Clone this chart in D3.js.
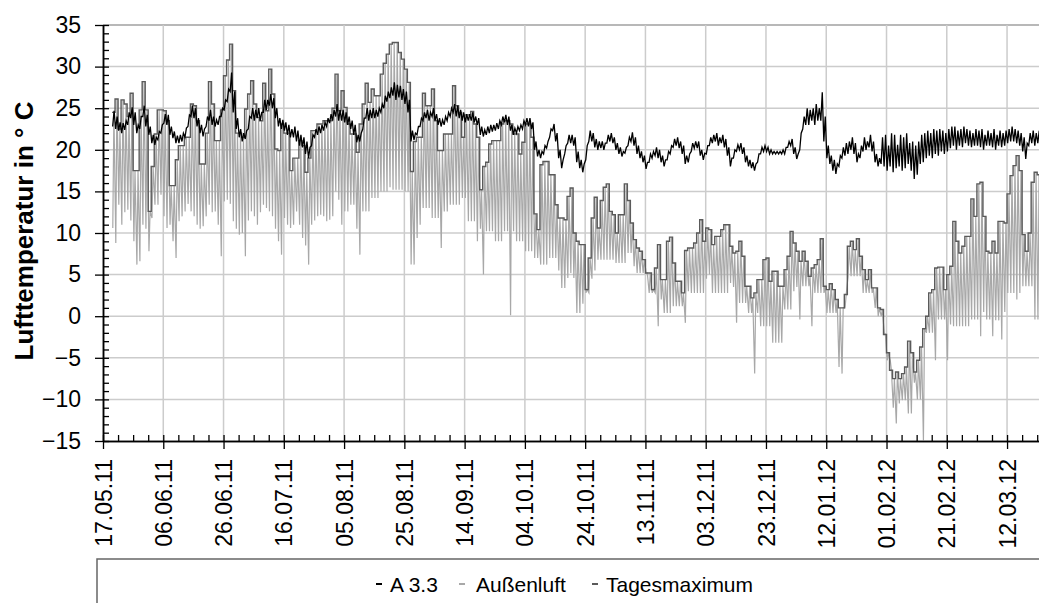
<!DOCTYPE html>
<html>
<head>
<meta charset="utf-8">
<script src="https://cdn.jsdelivr.net/npm/d3@7"></script>
<style>
  body { margin: 0; background: #fff; }
  svg { display: block; font-family: "Liberation Sans", Arial, sans-serif; }
</style>
</head>
<body>
<svg id="chart" width="1039" height="603"></svg>
<script>
// x tick labels (every 20 days)
const tickLabels = ["17.05.11","06.06.11","26.06.11","16.07.11","05.08.11","25.08.11","14.09.11","04.10.11",
  "24.10.11","13.11.11","03.12.11","23.12.11","12.01.12","01.02.12","21.02.12","12.03.12"];
const yTicks = [-15, -10, -5, 0, 5, 10, 15, 20, 25, 30, 35];

// first day with data, one value per day from here on
const firstDay = "20.05.11";

// Außenluft: daily maximum (Tagesmaximum)
const tagesMax = [
  24.5, 26.1, 22.5, 26.0, 25.5, 24.0, 26.8, 17.5, 17.5, 24.8,
  28.2, 24.8, 12.6, 18.0, 21.9, 24.8, 24.8, 24.7, 23.5, 15.7,
  15.7, 18.8, 20.5, 20.5, 21.5, 21.5, 25.5, 25.3, 23.5, 18.3,
  18.3, 22.0, 28.2, 25.5, 21.1, 21.1, 24.8, 28.9, 30.8, 32.7,
  27.1, 22.0, 22.0, 21.5, 24.9, 26.7, 28.3, 25.5, 23.9, 23.5,
  28.0, 24.7, 29.7, 26.7, 20.1, 19.9, 23.1, 22.0, 22.0, 17.5,
  19.0, 19.0, 21.1, 20.5, 17.3, 19.0, 22.3, 22.3, 23.1, 23.1,
  23.5, 23.5, 23.5, 25.0, 29.1, 24.7, 27.1, 25.1, 23.1, 21.9,
  21.9, 19.7, 23.1, 25.5, 28.0, 25.7, 27.3, 26.5, 26.5, 29.1,
  30.4, 31.5, 32.7, 32.9, 32.9, 31.7, 30.9, 29.7, 28.1, 17.4,
  21.0, 21.5, 21.5, 26.8, 25.3, 25.3, 27.3, 23.5, 19.9, 19.9,
  21.9, 21.9, 21.9, 27.7, 25.3, 24.5, 21.5, 24.2, 24.2, 24.6,
  23.1, 21.5, 15.2, 18.0, 18.5, 20.7, 21.1, 21.1, 21.1, 23.1,
  23.5, 23.5, 23.1, 21.9, 21.9, 19.5, 20.9, 23.1, 23.1, 21.5,
  12.3, 10.4, 18.2, 18.6, 18.6, 17.0, 17.0, 13.4, 11.8, 11.8,
  11.6, 14.4, 15.4, 10.0, 9.0, 8.6, 8.6, 3.2, 7.0, 11.8,
  14.3, 10.6, 13.9, 15.5, 15.9, 12.6, 12.2, 10.0, 12.2, 12.2,
  15.9, 13.9, 11.2, 9.2, 8.2, 7.8, 6.8, 5.2, 5.2, 3.2,
  5.8, 8.6, 4.4, 4.4, 9.0, 9.5, 6.4, 4.2, 4.2, 2.8,
  7.9, 8.2, 8.2, 8.8, 10.0, 11.6, 9.0, 10.6, 10.4, 8.6,
  9.6, 9.6, 10.4, 11.0, 11.0, 8.4, 7.6, 7.8, 9.0, 7.2,
  3.6, 3.6, 2.2, 2.8, 4.4, 4.4, 6.8, 7.0, 4.2, 5.4,
  5.4, 3.6, 3.6, 5.6, 7.2, 10.2, 8.8, 7.8, 6.6, 7.8,
  6.6, 4.8, 5.8, 6.2, 6.8, 9.3, 3.6, 3.2, 3.9, 3.2,
  2.0, 1.0, 1.0, 2.6, 8.4, 9.0, 8.0, 9.3, 7.2, 5.6,
  4.4, 5.6, 3.4, 3.4, 1.0, 0.8, -2.2, -4.4, -6.5, -7.5,
  -6.7, -7.5, -6.9, -6.1, -3.0, -4.4, -6.7, -5.3, -3.7, -1.5,
  0.0, 2.8, 3.2, 5.8, 5.9, 5.9, 3.2, 5.0, 6.0, 11.4,
  9.0, 7.6, 8.4, 9.6, 9.6, 14.1, 12.0, 15.9, 16.1, 12.0,
  7.8, 7.6, 9.0, 7.6, 11.4, 11.4, 11.2, 14.7, 16.9, 18.1,
  19.3, 17.5, 9.8, 7.8, 10.0, 16.1, 17.3, 17.0
];

// Außenluft: daily minimum
const aussenMin = [
  10.6, 8.8, 13.4, 11.0, 12.5, 12.8, 11.5, 9.0, 6.2, 6.6,
  11.0, 10.5, 7.8, 11.8, 13.4, 13.4, 14.6, 12.0, 10.6, 11.0,
  9.0, 7.0, 11.4, 12.0, 12.6, 13.5, 12.6, 12.0, 11.0, 10.5,
  10.8, 12.0, 13.4, 12.5, 12.6, 11.0, 7.2, 13.8, 14.0, 13.5,
  11.4, 10.5, 9.8, 10.0, 7.2, 11.5, 12.6, 12.0, 11.0, 12.5,
  13.4, 13.0, 12.6, 12.0, 10.5, 9.0, 7.4, 11.8, 11.0, 10.6,
  11.0, 12.6, 11.0, 9.4, 8.5, 6.2, 11.0, 11.5, 12.0, 12.2,
  12.0, 11.4, 11.6, 12.0, 15.0, 14.0, 11.0, 12.6, 12.6, 13.4,
  13.4, 10.5, 7.4, 12.6, 12.6, 12.6, 14.2, 14.2, 14.2, 15.0,
  15.0, 15.0, 15.5, 15.2, 15.2, 15.2, 15.2, 15.0, 15.0, 6.2,
  6.2, 9.4, 11.0, 13.0, 13.0, 13.0, 11.8, 11.8, 11.8, 8.2,
  12.6, 12.6, 13.4, 13.4, 13.4, 13.4, 14.2, 14.2, 11.4, 11.4,
  11.4, 9.0, 10.5, 5.0, 10.2, 10.2, 10.2, 9.0, 9.0, 9.0,
  10.2, 10.2, 0.1, 10.2, 9.0, 9.0, 9.0, 7.8, 7.8, 7.8,
  7.0, 7.0, 6.2, 6.2, 6.2, 7.0, 7.0, 7.0, 5.5, 3.4,
  3.4, 4.6, 5.2, 4.6, 0.4, 0.4, 1.5, 2.8, 2.8, 4.5,
  5.5, 6.8, 6.8, 6.8, 6.8, 6.8, 6.8, 6.4, 6.4, 6.4,
  6.4, 7.6, 7.6, 6.0, 5.2, 5.2, 5.2, 5.2, 2.8, 2.8,
  2.8, -1.2, 2.0, 0.4, 0.4, 0.4, 1.2, 1.2, 1.2, 1.2,
  -0.8, 3.0, 2.8, 2.8, 2.8, 2.8, 2.8, 4.5, 5.0, 2.8,
  2.8, 2.8, 2.8, 2.8, 2.8, 4.0, 3.5, -0.8, 1.6, 1.6,
  1.6, 0.4, 0.4, -6.9, 0.4, -1.2, -1.2, -1.2, -1.2, -3.2,
  -3.2, -3.2, -3.2, 0.8, 0.8, 0.8, 3.0, 3.5, -0.4, 3.6,
  3.6, 3.6, -1.2, 2.8, 2.8, 2.8, 2.8, 0.4, 0.4, 0.4,
  0.4, -6.1, -6.9, 1.0, 4.8, 4.8, 4.8, 4.8, 4.8, 2.8,
  2.8, 2.8, 2.8, 1.0, 0.0, 0.0, -2.0, -5.3, -5.3, -11.0,
  -12.9, -10.5, -10.1, -10.1, -11.7, -11.7, -8.0, -10.0, -10.0, -14.9,
  -2.0, -2.0, -2.0, -5.3, -0.4, -0.4, -0.4, -5.3, -1.0, -1.2,
  -1.2, -1.2, -1.2, -1.2, -1.2, -0.4, -0.4, -0.4, -2.4, 0.5,
  -0.4, -0.4, -2.4, -0.5, -0.5, -2.8, 0.5, 2.8, 2.8, 2.8,
  2.0, 2.8, 3.6, 3.6, 3.6, 3.6, -0.4, -0.4
];

// A 3.3: daily low and high
const a33Lo = [
  22.8, 22.5, 22.3, 22.0, 22.4, 23.0, 23.8, 23.0, 22.0, 22.5,
  24.0, 22.8, 21.8, 20.8, 20.6, 21.2, 22.0, 23.2, 23.0, 21.8,
  21.4, 20.8, 20.8, 21.0, 21.5, 22.8, 24.0, 23.8, 22.8, 22.0,
  21.6, 22.8, 23.5, 23.0, 22.8, 23.0, 24.0, 24.8, 25.8, 27.0,
  24.5, 22.5, 21.5, 21.0, 21.3, 22.5, 23.8, 23.5, 23.8, 23.5,
  24.5, 24.8, 25.3, 25.0, 23.8, 22.8, 22.5, 22.3, 21.8, 21.5,
  21.5, 21.0, 20.5, 20.3, 19.5, 19.0, 20.5, 21.5, 21.8, 22.0,
  22.3, 22.8, 23.2, 23.5, 24.0, 23.5, 23.5, 23.3, 23.0, 22.5,
  21.8, 20.9, 21.0, 22.5, 23.8, 23.5, 23.8, 23.8, 24.0, 24.5,
  25.0, 25.8, 26.2, 26.5, 26.0, 26.3, 26.0, 25.5, 24.5, 21.0,
  21.2, 21.8, 22.8, 23.5, 23.8, 23.5, 24.0, 23.5, 23.0, 22.8,
  23.0, 23.5, 24.0, 24.5, 24.0, 23.8, 23.5, 23.3, 23.5, 23.5,
  23.3, 23.0, 21.8, 21.6, 21.8, 22.0, 22.2, 22.3, 22.5, 23.0,
  23.3, 23.0, 22.3, 21.8, 22.0, 22.3, 22.5, 23.0, 22.8, 22.5,
  20.0, 19.2, 19.0, 19.5, 20.2, 21.5, 22.3, 21.0, 19.0, 17.8,
  19.5, 20.8, 20.8, 20.5, 18.5, 17.8, 17.3, 18.8, 21.0, 21.0,
  20.3, 20.0, 20.2, 20.0, 20.8, 21.0, 20.8, 20.0, 19.5, 19.2,
  19.6, 20.5, 21.0, 20.5, 19.5, 19.0, 18.5, 17.7, 18.5, 19.0,
  19.3, 19.0, 18.5, 18.0, 18.8, 19.5, 20.3, 20.5, 20.2, 19.5,
  18.3, 18.5, 19.8, 20.2, 20.2, 19.3, 18.8, 19.5, 20.5, 20.8,
  21.0, 20.5, 20.8, 20.3, 19.3, 18.0, 19.0, 19.8, 20.0, 19.5,
  18.5, 18.0, 17.8, 17.5, 18.5, 19.5, 19.8, 19.8, 19.5, 19.5,
  19.5, 19.5, 19.5, 19.5, 20.3, 20.5, 19.5, 18.9, 20.0, 22.5,
  23.0, 23.0, 23.5, 23.0, 23.5, 23.5, 21.0, 19.0, 18.3, 17.5,
  17.1, 18.0, 19.0, 19.3, 19.5, 20.0, 19.5, 18.5, 19.0, 19.8,
  20.0, 20.3, 19.8, 18.5, 18.0, 18.3, 18.0, 17.5, 18.0, 17.3,
  17.8, 18.0, 17.5, 17.8, 18.3, 17.5, 16.5, 17.0, 18.3, 18.5,
  19.0, 19.3, 19.0, 19.5, 19.3, 19.8, 19.5, 19.8, 20.2, 20.5,
  20.0, 20.5, 20.3, 20.8, 20.5, 20.3, 20.5, 20.5, 20.3, 20.0,
  20.5, 20.5, 20.3, 20.0, 20.5, 20.3, 20.5, 20.8, 21.0, 21.0,
  20.8, 20.5, 19.8, 18.9, 20.5, 20.8, 20.5, 20.8
];
const a33Hi = [
  24.7, 24.0, 23.3, 23.2, 23.5, 24.5, 25.1, 24.5, 23.0, 24.0,
  25.3, 24.2, 22.8, 21.8, 21.5, 22.2, 23.0, 24.3, 24.2, 22.8,
  22.2, 21.7, 21.8, 22.0, 22.6, 24.2, 25.3, 25.0, 23.8, 23.0,
  22.5, 24.0, 24.8, 24.0, 23.6, 24.0, 25.0, 26.0, 27.3, 29.3,
  27.0, 23.8, 22.5, 22.0, 22.3, 24.0, 25.0, 24.8, 25.0, 24.5,
  26.0, 26.0, 26.7, 26.2, 25.0, 23.8, 23.6, 23.3, 23.0, 22.5,
  22.8, 22.3, 21.8, 21.5, 21.0, 20.3, 21.8, 22.5, 22.8, 23.0,
  23.3, 23.8, 24.3, 24.8, 25.5, 24.8, 24.8, 24.5, 24.0, 23.5,
  23.0, 21.8, 22.0, 23.8, 25.0, 24.8, 25.0, 24.8, 25.0, 25.5,
  26.5, 27.0, 27.5, 28.1, 27.8, 27.7, 27.3, 27.0, 26.0, 22.3,
  22.0, 22.8, 23.8, 24.5, 24.8, 24.5, 25.0, 24.3, 23.8, 23.6,
  24.0, 24.5, 25.0, 25.5, 25.3, 24.8, 24.5, 24.3, 24.3, 24.5,
  24.0, 23.8, 22.8, 22.4, 22.8, 23.0, 23.0, 23.2, 23.5, 24.0,
  24.2, 24.0, 23.0, 22.6, 22.8, 23.0, 23.5, 23.8, 23.8, 23.3,
  21.0, 20.0, 19.8, 20.5, 21.0, 22.5, 23.1, 22.0, 20.0, 18.8,
  20.5, 21.8, 21.8, 21.5, 19.8, 18.8, 18.3, 20.5, 22.3, 22.0,
  21.3, 21.0, 21.0, 20.8, 21.8, 22.0, 21.5, 20.8, 20.3, 19.8,
  20.3, 21.5, 22.1, 21.5, 20.5, 19.8, 19.3, 18.5, 19.5, 19.8,
  20.3, 20.0, 19.3, 18.8, 19.8, 20.5, 21.3, 21.5, 21.0, 20.5,
  19.3, 19.5, 20.8, 21.0, 21.0, 20.0, 19.6, 20.5, 21.5, 21.8,
  22.0, 21.5, 21.8, 21.3, 20.3, 19.0, 20.0, 20.6, 20.8, 20.3,
  19.3, 18.8, 18.5, 18.3, 19.5, 20.3, 20.5, 20.3, 20.0, 19.8,
  19.8, 19.8, 20.0, 20.3, 21.0, 21.3, 20.3, 19.5, 22.0, 24.0,
  25.0, 24.8, 25.0, 25.5, 25.0, 26.9, 24.0, 20.5, 19.3, 18.8,
  18.3, 19.3, 20.3, 20.8, 21.0, 21.5, 20.8, 19.5, 20.5, 21.5,
  21.0, 21.8, 21.0, 19.5, 19.0, 21.5, 21.8, 20.5, 22.0, 21.8,
  20.6, 21.8, 21.5, 22.0, 20.8, 21.0, 20.5, 21.0, 21.8, 22.0,
  22.3, 22.0, 22.5, 22.3, 22.5, 22.3, 22.0, 22.5, 22.8, 22.8,
  22.3, 22.5, 22.8, 22.5, 22.3, 22.0, 22.5, 22.3, 22.5, 21.8,
  22.3, 22.0, 22.5, 21.8, 22.3, 22.0, 22.3, 22.5, 22.8, 22.5,
  22.3, 22.0, 21.5, 20.8, 22.0, 22.3, 22.0, 22.3
];

const legendNames = ["A 3.3", "Außenluft", "Tagesmaximum"];
const colors = { a33: "#000000", aussen: "#a8a8a8", max: "#5a5a5a" };

const parse = d3.timeParse("%d.%m.%y");
const DAY = 864e5;
const start = parse(tickLabels[0]);
const day0 = parse(firstDay);
const at = (i, frac) => new Date(+day0 + (i + frac) * DAY);

const margin = { left: 103, top: 25, right: 1039, bottom: 441 };

const svg = d3.select("#chart");

const x = d3.scaleTime()
  .domain([start, new Date(+start + 310.6 * DAY)])
  .range([margin.left, margin.right]);
const y = d3.scaleLinear().domain([-15, 35]).range([margin.bottom, margin.top]);

const tickDates = tickLabels.map(parse);
const minorDates = d3.range(0, 311, 5).map(d => new Date(+start + d * DAY));

// grid
const grid = svg.append("g");
grid.selectAll(".hg").data(yTicks.slice(1)).enter().append("line")
  .attr("x1", margin.left).attr("x2", margin.right)
  .attr("y1", d => y(d)).attr("y2", d => y(d))
  .attr("stroke", d => d === 35 ? "#a0a0a0" : "#cccccc").attr("stroke-width", 1.5);
grid.selectAll(".vg").data(tickDates.slice(1)).enter().append("line")
  .attr("x1", d => x(d)).attr("x2", d => x(d))
  .attr("y1", margin.top).attr("y2", margin.bottom)
  .attr("stroke", "#cccccc").attr("stroke-width", 1.5);

svg.append("clipPath").attr("id", "clip").append("rect")
  .attr("x", margin.left).attr("y", margin.top - 2)
  .attr("width", margin.right - margin.left).attr("height", margin.bottom - margin.top + 2);

const plot = svg.append("g").attr("clip-path", "url(#clip)");

// Außenluft: min in the early morning, max in the afternoon
const aussenPts = [];
tagesMax.forEach((v, i) => {
  aussenPts.push([at(i, 0.25), aussenMin[i]]);
  aussenPts.push([at(i, 0.62), v]);
});
const line = d3.line().x(d => x(d[0])).y(d => y(d[1]));

plot.append("path").datum(aussenPts)
  .attr("fill", "none").attr("stroke", colors.aussen).attr("stroke-width", 1.2)
  .attr("d", line);

// Tagesmaximum as daily steps
const maxPts = tagesMax.map((v, i) => [at(i, 0), v]);
maxPts.push([at(tagesMax.length, 0), tagesMax[tagesMax.length - 1]]);
plot.append("path").datum(maxPts)
  .attr("fill", "none").attr("stroke", colors.max).attr("stroke-width", 1.4)
  .attr("d", d3.line().curve(d3.curveStepAfter).x(d => x(d[0])).y(d => y(d[1])));

// A 3.3
const a33Pts = [];
a33Lo.forEach((v, i) => {
  a33Pts.push([at(i, 0.2), v]);
  a33Pts.push([at(i, 0.68), a33Hi[i]]);
});
plot.append("path").datum(a33Pts)
  .attr("fill", "none").attr("stroke", colors.a33).attr("stroke-width", 1.3)
  .attr("d", line);

// y axis
const yAxis = svg.append("g").attr("transform", `translate(${margin.left},0)`);
yAxis.call(d3.axisLeft(y).tickValues(yTicks).tickSizeInner(8).tickSizeOuter(0).tickPadding(14));
yAxis.selectAll("text").attr("font-size", "23px").attr("font-family", "Liberation Sans, Arial, sans-serif").attr("fill", "#000");
svg.append("g").attr("transform", `translate(${margin.left},0)`)
  .call(d3.axisRight(y).tickValues(d3.range(-15, 36, 1)).tickSize(6).tickFormat("").tickSizeOuter(0));

// x axis
const xAxis = svg.append("g").attr("transform", `translate(0,${margin.bottom})`);
xAxis.call(d3.axisBottom(x).tickValues(tickDates).tickSizeInner(8).tickSizeOuter(0)
  .tickFormat((d, i) => tickLabels[i]));
xAxis.selectAll("text")
  .attr("transform", "rotate(-90)")
  .attr("text-anchor", "end")
  .attr("x", -18).attr("y", 0).attr("dy", "0.35em")
  .attr("font-size", "23px").attr("font-family", "Liberation Sans, Arial, sans-serif").attr("fill", "#000");
svg.append("g").attr("transform", `translate(0,${margin.bottom})`)
  .call(d3.axisTop(x).tickValues(minorDates).tickSize(6).tickFormat("").tickSizeOuter(0));
svg.selectAll(".domain").attr("stroke", "#000").attr("stroke-width", 1.5);
svg.selectAll(".tick line").attr("stroke", "#000").attr("stroke-width", 1.3);

// y title
svg.append("text")
  .attr("transform", "translate(33,231) rotate(-90)")
  .attr("text-anchor", "middle")
  .attr("font-size", "26px").attr("font-weight", "bold")
  .text("Lufttemperatur in ° C");

// legend
svg.append("rect")
  .attr("x", 97).attr("y", 559).attr("width", 1000).attr("height", 80)
  .attr("fill", "none").attr("stroke", "#666").attr("stroke-width", 1.5);

const legendX = [376, 459, 592];
const legendCols = [colors.a33, colors.aussen, colors.max];
const leg = svg.append("g").selectAll("g").data(legendNames).enter().append("g")
  .attr("transform", (d, i) => `translate(${legendX[i]},0)`);
leg.append("line").attr("x1", 0).attr("x2", 6).attr("y1", 584).attr("y2", 584)
  .attr("stroke", (d, i) => legendCols[i]).attr("stroke-width", 2);
leg.append("text").attr("x", (d, i) => i === 1 ? 17 : 14).attr("y", 592)
  .attr("font-size", "21px").text(d => d);
</script>
</body>
</html>
